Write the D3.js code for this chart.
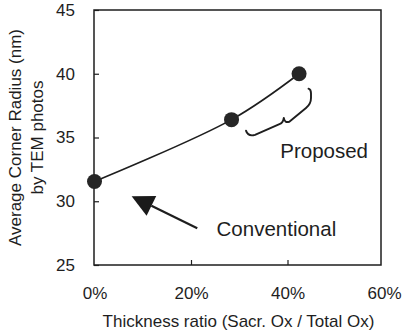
<!DOCTYPE html>
<html><head><meta charset="utf-8">
<script src="https://cdn.jsdelivr.net/npm/d3@7"></script>
<style>
html,body{margin:0;padding:0;background:#fff;}
svg text{font-family:"Liberation Sans",Arial,Helvetica,sans-serif;fill:#1e1e1e;}
</style></head><body>
<svg id="c" width="402" height="331"></svg>
<script>
const ratio = [0, 0.284, 0.424];
const radius = [31.55, 36.4, 40.0];
const yTicks = [25, 30, 35, 40, 45];
const xTicks = [0, 0.2, 0.4, 0.6];
const xTitle = "Thickness ratio (Sacr. Ox / Total Ox)";
const yTitle = ["Average Corner Radius (nm)", "by TEM photos"];
const labels = [
  {text: "Proposed", x: 0.385, y: 33.4},
  {text: "Conventional", x: 0.253, y: 27.3}
];

const ink = "#1e1e1e";
const svg = d3.select("#c");
const frame = {left: 94, right: 381, top: 10, bottom: 265};
const x = d3.scaleLinear().domain([0, 0.6]).range([94.5, 384]);
const y = d3.scaleLinear().domain([25, 45]).range([frame.bottom, frame.top]);

// axes
const gy = svg.append("g").attr("transform", `translate(${frame.left},0)`)
  .call(d3.axisLeft(y).tickValues(yTicks).tickSizeInner(-5).tickSizeOuter(0).tickPadding(19).tickFormat(d3.format("d")));
gy.select(".domain").remove();
gy.selectAll("line").attr("stroke", ink).attr("stroke-width", 1.2);
gy.selectAll("text").attr("font-size", 17).attr("fill", ink).attr("font-family", null);

const gx = svg.append("g").attr("transform", `translate(0,${frame.bottom})`)
  .call(d3.axisBottom(x).tickValues(xTicks).tickSizeInner(-5).tickSizeOuter(0).tickPadding(22).tickFormat(d3.format(".0%")));
gx.select(".domain").remove();
gx.selectAll(".tick").filter(d => d === 0 || d === 0.6).select("line").remove();
gx.selectAll("line").attr("stroke", ink).attr("stroke-width", 1.2);
gx.selectAll("text").attr("font-size", 17).attr("fill", ink).attr("font-family", null);

// frame
svg.append("rect").attr("x", frame.left).attr("y", frame.top)
  .attr("width", frame.right - frame.left).attr("height", frame.bottom - frame.top)
  .attr("fill", "none").attr("stroke", ink).attr("stroke-width", 1.5);

// titles
svg.append("text").attr("x", (frame.left + 381) / 2 + 1).attr("y", 327)
  .attr("text-anchor", "middle").attr("font-size", 17).text(xTitle);
const cy = (frame.top + frame.bottom) / 2;
yTitle.forEach((t, i) => {
  svg.append("text").attr("transform", `translate(${21 + i * 22},${cy}) rotate(-90)`)
    .attr("text-anchor", "middle").attr("font-size", 17).text(t);
});

// data line + markers
const pts = ratio.map((r, i) => [r, radius[i]]);
svg.append("path").datum(pts)
  .attr("d", d3.line().x(d => x(d[0])).y(d => y(d[1])).curve(d3.curveCatmullRom.alpha(0.5)))
  .attr("fill", "none").attr("stroke", ink).attr("stroke-width", 1.6);
svg.selectAll("circle.pt").data(pts).join("circle").attr("class", "pt")
  .attr("cx", d => x(d[0])).attr("cy", d => y(d[1])).attr("r", 7.5).attr("fill", "#262626");

// brace (local shape anchored near the upper point)
const bx = x(0.4238), by = y(40.04);
const brace = [
  ["M", -53, 57.4], ["Q", -51, 63.7, -44, 61.7], ["L", -19, 50.7], ["Q", -16, 49.7, -15.2, 44.7],
  ["Q", -14.5, 49.7, -10, 48.7], ["L", 7, 34.7], ["Q", 12, 30.7, 12, 24.7], ["L", 12, 20], ["Q", 12, 16, 9.5, 15.4]
].map(s => s[0] + s.slice(1).map((v, i) => (i % 2 === 0 ? v + bx : v + by).toFixed(1)).join(",")).join(" ");
svg.append("path").attr("d", brace).attr("fill", "none").attr("stroke", ink).attr("stroke-width", 1.9)
  .attr("stroke-linecap", "round").attr("stroke-linejoin", "round");

// arrow toward the conventional point
const tipX = x(0.077), tipY = y(30.4);
const tailX = tipX + 65.6, tailY = tipY + 32;
const ang = Math.atan2(tailY - tipY, tailX - tipX);
const L = 22, W = 11;
const bmx = tipX + L * Math.cos(ang), bmy = tipY + L * Math.sin(ang);
svg.append("line").attr("x1", tailX).attr("y1", tailY).attr("x2", bmx).attr("y2", bmy)
  .attr("stroke", ink).attr("stroke-width", 2.2);
svg.append("path").attr("d", `M${tipX},${tipY} L${bmx - W * Math.sin(ang)},${bmy + W * Math.cos(ang)} L${bmx + W * Math.sin(ang)},${bmy - W * Math.cos(ang)} Z`)
  .attr("fill", "#1a1a1a");

// annotation labels
labels.forEach(l => {
  svg.append("text").attr("x", x(l.x)).attr("y", y(l.y)).attr("font-size", 20.5).text(l.text);
});
</script>
</body></html>
